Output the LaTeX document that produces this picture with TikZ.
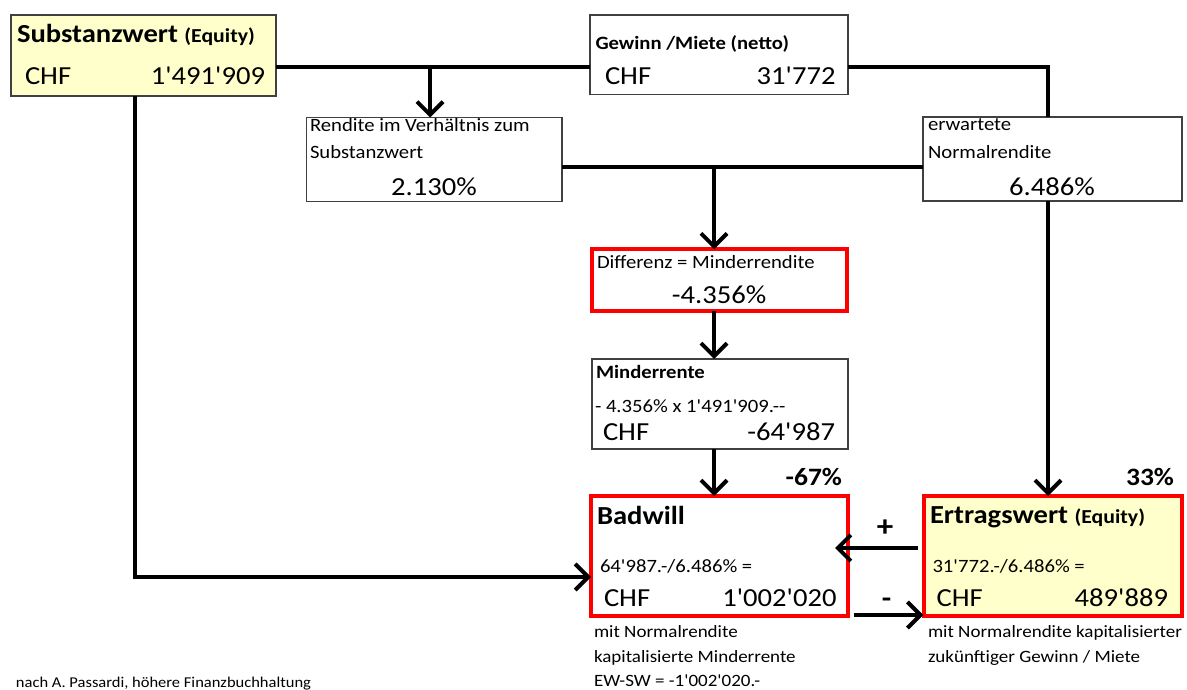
\documentclass[tikz,border=0pt]{standalone}
\usepackage{fontspec}
\setmainfont{Carlito}[Ligatures=TeXOff, FakeStretch=1.1]
\usetikzlibrary{arrows.meta}

\definecolor{paleyellow}{HTML}{FFFFCC}
\definecolor{boxgray}{HTML}{404040}
\definecolor{alertred}{HTML}{FF0000}

% font sizes used in the chart
\newcommand\fbig{\fontsize{26}{30}\selectfont}
\newcommand\fsmall{\fontsize{18.8}{22}\selectfont}
\newcommand\fnote{\fontsize{17.3}{21}\selectfont}
\newcommand\fcite{\fontsize{15}{18}\selectfont}
\newcommand\fequity{\fontsize{19.8}{22}\selectfont\bfseries}

\tikzset{
  plainbox/.style={draw=boxgray, line width=1.5pt, inner sep=0pt, outer sep=0pt},
  alertbox/.style={draw=alertred, line width=4pt, inner sep=0pt, outer sep=0pt},
  txt/.style={inner sep=0pt, outer sep=0pt, text=black},
  conn/.style={line width=4pt, draw=black},
  arr/.style={conn, -{Straight Barb[length=13pt,width=26pt]}},
}

\begin{document}
\begin{tikzpicture}[x=1pt, y=-1pt]
\useasboundingbox[fill=white] (0,0) rectangle (1187,690);

% ---------- boxes ----------
\node[plainbox, fill=paleyellow, minimum width=265pt, minimum height=81pt] (sub) at (143.5,55.5) {};
\node[plainbox, fill=white, minimum width=258pt, minimum height=79.5pt] (gew) at (719,54.75) {};
\node[plainbox, fill=white, minimum width=255.5pt, minimum height=84pt] (ren) at (434.25,159.5) {};
\node[plainbox, fill=white, minimum width=259pt, minimum height=84pt] (erw) at (1052.5,159) {};
\node[alertbox, fill=white, minimum width=255pt, minimum height=61.5pt] (dif) at (719.2,280) {};
\node[plainbox, fill=white, minimum width=256pt, minimum height=90pt] (min) at (720,404) {};
\node[alertbox, fill=white, minimum width=257pt, minimum height=120pt] (bad) at (719.5,556) {};
\node[alertbox, fill=paleyellow, minimum width=257.5pt, minimum height=120pt] (ert) at (1053,556) {};

% ---------- box texts ----------
\node[txt, anchor=base west] (subT) at (17,43) {\fbig\bfseries Substanzwert {\fequity(Equity)}};
\node[txt, anchor=base west] (subC) at (25,85) {\fbig CHF};
\node[txt, anchor=base east] (subV) at (265,85) {\fbig 1'491'909};

\node[txt, anchor=base west] (gewT) at (595.5,50) {\fsmall\bfseries Gewinn /Miete (netto)};
\node[txt, anchor=base west] (gewC) at (605,85) {\fbig CHF};
\node[txt, anchor=base east] (gewV) at (835.5,85) {\fbig 31'772};

\node[txt, anchor=base west] (renA) at (310,132) {\fsmall Rendite im Verhältnis zum};
\node[txt, anchor=base west] (renB) at (310,158.3) {\fsmall Substanzwert};
\node[txt, anchor=base] (renV) at (434,196) {\fbig 2.130\%};

\node[txt, anchor=base west] (erwA) at (928,131) {\fsmall erwartete};
\node[txt, anchor=base west] (erwB) at (928,158.3) {\fsmall Normalrendite};
\node[txt, anchor=base] (erwV) at (1052,196) {\fbig 6.486\%};

\node[txt, anchor=base west] (difA) at (597,268.3) {\fsmall Differenz = Minderrendite};
\node[txt, anchor=base] (difV) at (719,303) {\fbig -4.356\%};

\node[txt, anchor=base west] (minA) at (596,378) {\fsmall\bfseries Minderrente};
\node[txt, anchor=base west] (minB) at (595,412) {\fsmall - 4.356\% x 1'491'909.--};
\node[txt, anchor=base west] (minC) at (603,440.5) {\fbig CHF};
\node[txt, anchor=base east] (minV) at (835,440.5) {\fbig -64'987};

\node[txt, anchor=base west] (badT) at (597,524) {\fbig\bfseries Badwill};
\node[txt, anchor=base west] (badB) at (600,572.5) {\fsmall 64'987.-/6.486\% =};
\node[txt, anchor=base west] (badC) at (604,606.5) {\fbig CHF};
\node[txt, anchor=base east] (badV) at (836.5,606.5) {\fbig 1'002'020};

\node[txt, anchor=base west] (ertT) at (930,523.5) {\fbig\bfseries Ertragswert {\fequity(Equity)}};
\node[txt, anchor=base west] (ertB) at (932.5,572) {\fsmall 31'772.-/6.486\% =};
\node[txt, anchor=base west] (ertC) at (936.5,606.5) {\fbig CHF};
\node[txt, anchor=base east] (ertV) at (1168,606.5) {\fbig 489'889};

% ---------- shares ----------
\node[txt, anchor=base east] (badP) at (842,485) {\fontsize{25}{28}\selectfont\bfseries -67\%};
\node[txt, anchor=base east] (ertP) at (1174,485) {\fontsize{25}{28}\selectfont\bfseries 33\%};

% ---------- notes below the boxes ----------
\node[txt, anchor=base west] (badN1) at (594,637) {\fnote mit Normalrendite};
\node[txt, anchor=base west] (badN2) at (594,662.5) {\fnote kapitalisierte Minderrente};
\node[txt, anchor=base west] (badN3) at (594,686.5) {\fnote EW-SW = -1'002'020.-};
\node[txt, anchor=base west] (ertN1) at (928,637) {\fnote mit Normalrendite kapitalisierter};
\node[txt, anchor=base west] (ertN2) at (928,662.5) {\fnote zukünftiger Gewinn / Miete};
\node[txt, anchor=base west] (cite) at (16,687.5) {\fcite nach A. Passardi, höhere Finanzbuchhaltung};

% ---------- junction points ----------
\coordinate (j1) at (430,67);
\coordinate (j2) at (1048,67);
\coordinate (j3) at (714,167);
\coordinate (j4) at (135,577);
\coordinate (j5) at (886,548);
\coordinate (j6) at (886,615);

% ---------- connectors ----------
\draw[conn] (sub.east |- j1) -- (gew.west |- j1);
\draw[arr] (j1) -- (j1 |- ren.north);
\draw[conn] (gew.east |- j2) -- (j2) -- (j2 |- erw.north);
\draw[conn] (ren.east |- j3) -- (erw.west |- j3);
\draw[arr] (j3) -- (j3 |- dif.north);
\draw[arr] (j3 |- dif.south) -- (j3 |- min.north);
\draw[arr] (j3 |- min.south) -- (j3 |- bad.north);
\draw[arr] (j2 |- erw.south) -- (j2 |- ert.north);
\draw[arr] (j4 |- sub.south) -- (j4) -- (bad.west |- j4);
\draw[arr] ([xshift=-6pt]ert.west |- j5) -- ([xshift=-13pt]bad.east |- j5);
\draw[arr] ([xshift=6pt]bad.east |- j6) -- ([xshift=-1pt]ert.west |- j6);

% signs on the two horizontal arrows
\node[txt] (plus) at (885,528) {\fontsize{30}{30}\selectfont\bfseries +};
\node[txt] (minus) at (886.5,603) {\fontsize{28}{28}\selectfont\bfseries -};
\end{tikzpicture}
\end{document}
